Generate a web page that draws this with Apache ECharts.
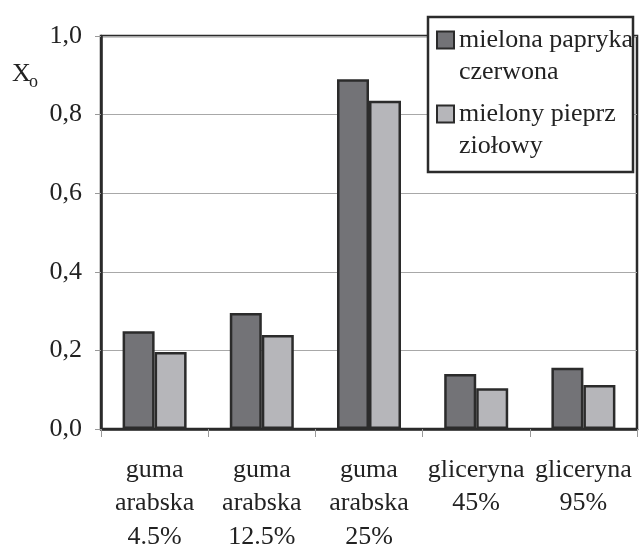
<!DOCTYPE html>
<html>
<head>
<meta charset="utf-8">
<script src="https://cdn.jsdelivr.net/npm/echarts@6/dist/echarts.min.js"></script>
<style>
  html, body { margin: 0; padding: 0; background: #fff; }
  #chart { width: 642px; height: 548px; }
</style>
</head>
<body>
<div id="chart"></div>
<script>
// categories and values
const categories = ['guma\narabska\n4.5%', 'guma\narabska\n12.5%', 'guma\narabska\n25%', 'gliceryna\n45%', 'gliceryna\n95%']
const seriesNames = ['mielona papryka\nczerwona', 'mielony pieprz\nziołowy']
const papryka = [0.249, 0.295, 0.89, 0.14, 0.156]
const pieprz = [0.196, 0.239, 0.835, 0.104, 0.112]

const font = '"Liberation Serif", "Times New Roman", serif'
const ink = '#222'

const chart = echarts.init(document.getElementById('chart'))

chart.setOption({
  animation: false,
  grid: {
    left: 101,
    right: 5,
    top: 36,
    bottom: 119,
    outerBoundsMode: 'none',
    containLabel: false,
    show: true,
    borderColor: '#2b2b2b',
    borderWidth: 2.5
  },
  legend: {
    data: seriesNames,
    orient: 'vertical',
    left: 436,
    top: -8,
    padding: 0,
    z: 20,
    icon: 'rect',
    itemWidth: 17,
    itemHeight: 17,
    itemGap: -22,
    // leading empty line keeps the icon level with the first text line
    formatter: name => '\n' + name,
    textStyle: {
      fontFamily: font,
      fontSize: 26,
      lineHeight: 32,
      color: ink
    }
  },
  graphic: [
    {
      type: 'rect',
      z: 10,
      shape: { x: 428, y: 17, width: 205, height: 155 },
      style: { fill: '#fff', stroke: '#2b2b2b', lineWidth: 2.5 }
    },
    {
      type: 'text',
      left: 12,
      top: 61,
      style: { text: 'X', fontFamily: font, fontSize: 26, fill: ink }
    },
    {
      type: 'text',
      left: 29,
      top: 73,
      style: { text: 'o', fontFamily: font, fontSize: 18, fill: ink }
    }
  ],
  xAxis: {
    type: 'category',
    data: categories,
    axisLine: { lineStyle: { color: '#2b2b2b', width: 2.5 } },
    axisTick: { show: true, length: 8, lineStyle: { color: '#999' } },
    axisLabel: {
      interval: 0,
      margin: 24,
      fontFamily: font,
      fontSize: 26,
      lineHeight: 33.5,
      color: ink
    }
  },
  yAxis: {
    type: 'value',
    min: 0,
    max: 1,
    interval: 0.2,
    axisLine: { show: true, lineStyle: { color: '#2b2b2b', width: 2.5 } },
    axisTick: { show: true, length: 6, lineStyle: { color: '#999' } },
    splitLine: { lineStyle: { color: '#a8a8a8', width: 1 } },
    axisLabel: {
      margin: 19,
      fontFamily: font,
      fontSize: 26,
      color: ink,
      formatter: v => v.toFixed(1).replace('.', ',')
    }
  },
  series: [
    {
      name: seriesNames[0],
      type: 'bar',
      data: papryka,
      barWidth: 32,
      barGap: '0%',
      itemStyle: { color: '#737377', borderColor: '#2b2b2b', borderWidth: 2.5 }
    },
    {
      name: seriesNames[1],
      type: 'bar',
      data: pieprz,
      barWidth: 32,
      barGap: '0%',
      itemStyle: { color: '#b6b6ba', borderColor: '#2b2b2b', borderWidth: 2.5 }
    }
  ]
})
</script>
</body>
</html>
